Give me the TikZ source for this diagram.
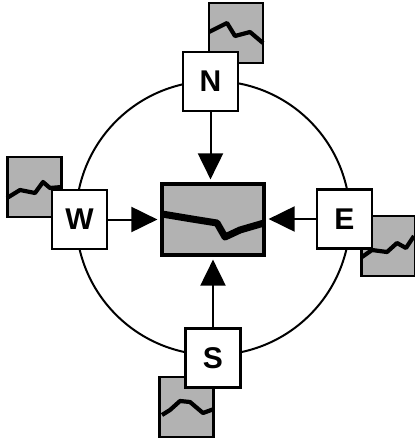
\documentclass[tikz,border=0pt]{standalone}
\usepackage{fontspec}
\setmainfont{Liberation Sans}
\usetikzlibrary{arrows.meta}
\begin{document}
\begin{tikzpicture}[x=1pt,y=-1pt,
  chart/.style={draw=black,line width=2.4pt,fill=black!30,minimum width=54pt,minimum height=60pt,inner sep=0pt},
  trend/.style={line width=4.2pt,line join=round},
  dirbox/.style={draw=black,line width=2.6pt,fill=white,minimum width=55pt,minimum height=59pt,inner sep=0pt,font=\fontsize{30}{30}\selectfont\bfseries},
  arr/.style={line width=2pt,-{Triangle[length=26pt,width=25pt]},shorten >=3pt}]
\useasboundingbox (0,0) rectangle (415,442);
\node[draw=black,line width=2pt,circle,minimum size=274pt,inner sep=0pt] (ring) at (213,218) {};
% charts
\node[chart] (nc) at (236,33) {};
\node[chart] (wc) at (34.5,187) {};
\node[chart] (ec) at (388.5,246) {};
\node[chart] (sc) at (186.5,407) {};
\draw[trend] (209,32) -- (227,23) -- (235,36) -- (250,32) -- (263,43);
\draw[trend] (7,198) -- (20,190) -- (35,193) -- (43,182) -- (50,188) -- (62,187);
\draw[trend] (362,257) -- (372,250) -- (387,252) -- (397,243) -- (406,248) -- (414,236);
\draw[trend] (162,415) -- (170,410) -- (180,401) -- (190,402) -- (203,413) -- (214,409);
% centre
\node[draw=black,line width=3.2pt,fill=black!30,minimum width=102pt,minimum height=71pt,inner sep=0pt] (c) at (213,219.5) {};
\draw[line width=7pt,line join=round] (162,214) -- (192,219) -- (217,223) -- (225,237) -- (240,230) -- (264,223);
% direction boxes
\node[dirbox] (N) at (210.5,81.5) {N};
\node[dirbox] (W) at (79.5,219.5) {W};
\node[dirbox] (E) at (344.5,219) {E};
\node[dirbox] (S) at (213,358) {S};
% arrows
\draw[arr] (N.south) -- (N.south |- c.north);
\draw[arr] (S.north) -- (S.north |- c.south);
\draw[arr] (W.east) -- (W.east -| c.west);
\draw[arr] (E.west) -- (E.west -| c.east);
\end{tikzpicture}
\end{document}
